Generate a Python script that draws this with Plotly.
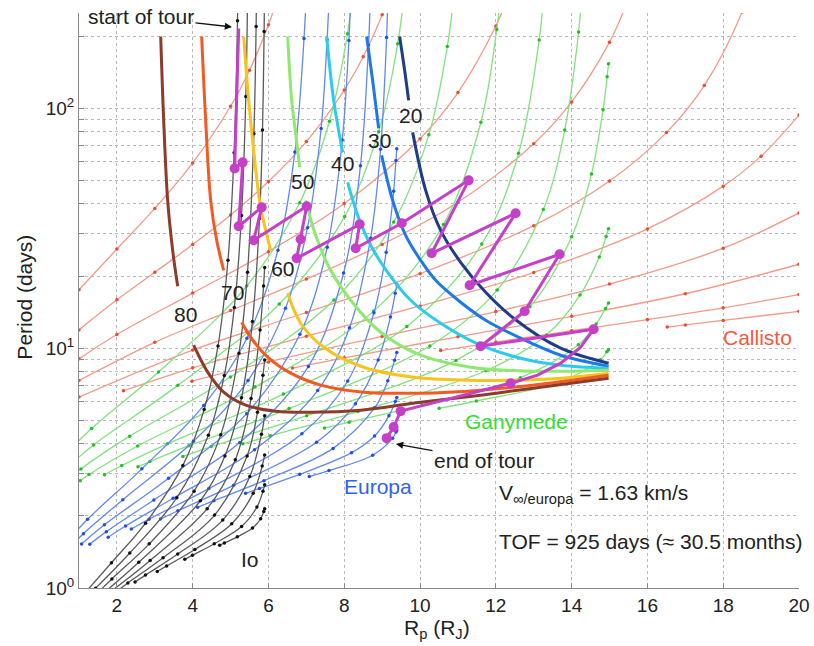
import math
import plotly.graph_objects as go

# ---------------- data ----------------
vinf_kms = [1, 2, 3, 4, 5, 6, 7, 8, 9, 10]

# Io contours (Rp in R_J, period in days), one list per v_inf level
io_rp = [
    [5.900, 5.877, 5.794, 5.578, 5.177, 4.836, 4.711],
    [5.900, 5.855, 5.695, 5.290, 4.570, 3.994, 3.792],
    [5.900, 5.834, 5.597, 5.030, 4.058, 3.313, 3.065],
    [5.900, 5.814, 5.508, 4.794, 3.606, 2.754, 2.479],
    [5.900, 5.854, 5.710, 5.436, 4.579, 3.218, 2.289, 2.000],
    [5.900, 5.870, 5.778, 5.541, 5.125, 4.383, 2.878, 1.898],
    [5.896, 5.885, 5.842, 5.764, 5.576, 5.288, 4.851, 4.203, 2.577, 1.567],
    [5.687, 5.674, 5.615, 5.447, 5.220, 4.741, 4.037, 2.853, 1.867, 1.285],
    [5.465, 5.445, 5.403, 5.288, 5.099, 4.834, 4.414, 3.581, 2.340, 1.438],
    [5.209, 5.183, 5.093, 4.931, 4.668, 4.303, 3.741, 2.757, 1.857, 1.222],
]
io_period = [
    [2.138, 2.083, 1.944, 1.778, 1.634, 1.541, 1.509],
    [2.692, 2.535, 2.175, 1.805, 1.529, 1.369, 1.317],
    [3.590, 3.224, 2.486, 1.852, 1.447, 1.236, 1.172],
    [5.234, 4.372, 2.920, 1.920, 1.385, 1.132, 1.059],
    [8.929, 7.714, 5.407, 3.552, 2.015, 1.337, 1.049, 0.969],
    [21.73, 18.19, 11.90, 6.163, 3.428, 2.142, 1.303, 0.983],
    [305.2, 209.5, 81.36, 34.73, 12.91, 6.208, 3.556, 2.311, 1.280, 0.929],
    [326.9, 219.7, 78.41, 20.76, 9.529, 4.360, 2.534, 1.528, 1.091, 0.885],
    [536.0, 264.3, 112.2, 35.76, 14.78, 7.697, 4.336, 2.379, 1.399, 0.998],
    [545.0, 232.3, 65.29, 23.26, 10.22, 5.547, 3.246, 1.864, 1.275, 0.980],
]

# Europa contours
europa_rp = [
    [9.386, 9.366, 9.276, 8.749, 7.598, 7.077],
    [9.386, 9.347, 9.179, 8.799, 8.193, 6.824, 5.760, 5.396],
    [9.386, 9.329, 9.149, 8.805, 7.704, 5.882, 4.560, 4.129],
    [9.386, 9.345, 9.218, 8.893, 8.293, 7.270, 5.080, 3.611, 3.150],
    [9.386, 9.364, 9.303, 9.107, 8.784, 8.092, 6.882, 4.425, 2.848, 2.381],
    [9.150, 9.117, 8.958, 8.696, 8.138, 7.297, 5.632, 3.484, 2.229, 1.770],
    [8.705, 8.641, 8.427, 7.983, 7.054, 5.243, 2.976, 1.722, 1.284],
    [8.193, 8.122, 7.947, 7.551, 6.830, 5.424, 3.362, 1.671, 1.069],
    [7.615, 7.547, 7.389, 7.030, 6.449, 5.460, 4.020, 2.157, 1.117, 0.747],
    [7.020, 6.938, 6.697, 6.249, 5.432, 4.291, 2.659, 1.226, 0.685],
]
europa_period = [
    [4.538, 4.469, 4.217, 3.579, 3.088, 2.916],
    [6.227, 5.996, 5.225, 4.307, 3.667, 2.978, 2.600, 2.481],
    [9.590, 8.900, 7.313, 5.647, 3.821, 2.804, 2.314, 2.169],
    [18.48, 16.94, 13.48, 8.924, 5.860, 4.056, 2.680, 2.100, 1.938],
    [67.95, 60.62, 45.11, 25.12, 14.05, 7.298, 4.394, 2.598, 1.937, 1.762],
    [291.4, 197.4, 67.59, 28.77, 12.16, 6.658, 3.770, 2.368, 1.813, 1.627],
    [365.3, 183.9, 57.62, 20.59, 8.395, 4.041, 2.329, 1.718, 1.522],
    [386.0, 191.9, 73.77, 26.37, 11.43, 5.333, 2.868, 1.835, 1.527],
    [331.8, 193.3, 82.43, 31.80, 14.66, 7.333, 4.091, 2.335, 1.685, 1.468],
    [375.0, 195.6, 65.76, 25.63, 11.01, 5.775, 3.140, 1.934, 1.559],
]

# Ganymede contours
ganymede_rp = [
    [14.972, 14.932, 14.754, 13.712, 11.485, 10.504],
    [14.972, 14.894, 14.648, 14.176, 12.647, 10.060, 8.127, 7.477],
    [14.972, 14.910, 14.730, 14.221, 13.334, 11.736, 8.364, 6.052, 5.323],
    [14.972, 14.937, 14.829, 14.523, 14.000, 12.899, 10.947, 7.008, 4.488, 3.741],
    [14.260, 14.184, 13.817, 13.253, 12.039, 10.258, 6.544, 3.902, 2.871, 2.556],
    [13.281, 13.143, 12.600, 11.629, 9.650, 6.393, 3.333, 2.129, 1.674],
    [12.184, 12.024, 11.606, 10.617, 8.777, 5.646, 2.548, 1.266, 1.031],
    [10.920, 10.719, 10.233, 9.305, 7.729, 4.996, 2.338, 1.051, 0.749],
    [9.650, 9.409, 8.905, 8.009, 6.285, 3.608, 1.385, 0.815],
    [8.269, 8.084, 7.610, 6.825, 5.426, 3.098, 1.332, 0.679],
]
ganymede_period = [
    [9.857, 9.657, 8.947, 7.247, 6.024, 5.615],
    [15.45, 14.63, 12.63, 10.34, 7.534, 5.802, 4.914, 4.645],
    [31.48, 29.24, 24.00, 16.65, 11.35, 8.056, 5.445, 4.312, 3.992],
    [153.6, 135.7, 98.75, 53.22, 29.14, 14.90, 8.897, 5.229, 3.888, 3.535],
    [290.7, 208.3, 81.26, 37.89, 17.50, 10.21, 5.602, 3.922, 3.368, 3.204],
    [322.2, 192.7, 65.01, 27.22, 12.33, 6.437, 3.991, 3.241, 2.966],
    [364.0, 213.6, 87.56, 32.78, 14.28, 6.884, 3.911, 2.975, 2.803],
    [324.7, 181.3, 77.74, 33.59, 15.89, 7.580, 4.298, 3.137, 2.864],
    [377.8, 186.0, 79.88, 35.39, 15.28, 6.999, 3.952, 3.313],
    [349.2, 204.6, 88.37, 40.41, 18.17, 7.952, 4.629, 3.660],
]

# Callisto contours
callisto_rp = [
    [16.522, 17.0, 18.0, 20.0],
    [10.544, 12.0, 14.0, 16.0, 18.0, 20.0],
    [6.631, 8.0, 11.0, 14.0, 17.0, 20.0],
    [3.979, 6.0, 9.0, 12.0, 15.0, 18.0, 20.0],
    [2.173, 4.0, 7.0, 10.0, 13.0, 16.0, 18.0, 19.0, 20.0],
    [1.0, 4.0, 7.0, 10.0, 13.0, 15.0, 16.5, 17.5, 18.5, 19.0],
    [1.0, 3.0, 5.0, 7.0, 9.0, 11.0, 13.0, 14.0, 15.0, 15.5],
    [1.0, 2.0, 4.0, 6.0, 8.0, 10.0, 11.0, 12.0, 12.3],
    [1.0, 2.0, 3.0, 4.0, 5.0, 6.0, 7.0, 8.0, 8.5, 9.0, 9.3],
    [1.0, 2.0, 3.0, 4.0, 5.0, 5.5, 6.0, 6.2],
]
callisto_period = [
    [12.25, 12.51, 13.06, 14.25],
    [9.778, 10.61, 11.83, 13.17, 14.74, 16.74],
    [8.264, 9.123, 11.16, 13.59, 16.87, 22.40],
    [7.287, 8.768, 11.20, 14.22, 18.52, 26.12, 36.65],
    [6.646, 8.285, 11.23, 15.01, 20.69, 31.45, 47.41, 63.24, 93.81],
    [6.254, 9.822, 14.09, 20.46, 32.45, 49.82, 79.28, 124.5, 252.8, 450.0],
    [7.336, 10.58, 14.35, 19.42, 27.09, 40.64, 71.24, 106.4, 189.0, 286.0],
    [9.034, 11.41, 16.98, 25.27, 40.10, 74.78, 116.4, 220.6, 287.0],
    [11.92, 15.91, 20.73, 27.05, 35.97, 49.58, 72.75, 119.3, 164.2, 245.8, 334.0],
    [17.53, 25.93, 38.28, 59.27, 102.1, 144.4, 223.3, 276.5],
]

# thick labelled contours (levels 20..80); each is broken by its inline label
contour_levels = [20, 30, 40, 50, 60, 70, 80]
contour_upper_rp = [
    [9.462, 9.594, 9.699],
    [8.591, 8.749, 8.908],
    [7.536, 7.721, 7.958],
    [6.507, 6.612, 6.718, 6.823],
    [5.346, 5.478, 5.610, 5.794, 6.058],
    [4.237, 4.343, 4.475, 4.633, 4.818],
    [3.156, 3.235, 3.340, 3.472, 3.604],
]
contour_upper_period = [
    [199.5, 143.9, 108.0],
    [199.5, 130.8, 82.54],
    [199.5, 108.0, 65.56],
    [199.5, 108.0, 78.66, 56.78],
    [199.5, 108.0, 66.83, 38.68, 25.6],
    [199.5, 89.1, 41.37, 28.18, 21.13],
    [199.5, 89.1, 41.37, 25.6, 18.13],
]
contour_lower_rp = [
    [9.805, 10.148, 10.544, 11.071, 11.731, 12.470, 13.710, 14.976],
    [8.987, 9.277, 9.620, 10.016, 10.412, 11.071, 11.731, 12.655, 13.710, 14.976],
    [8.090, 8.354, 8.697, 9.145, 9.752, 10.544, 11.599, 12.655, 13.710, 14.976],
    [6.982, 7.245, 7.641, 8.169, 8.960, 10.016, 11.335, 12.918, 14.976],
    [6.507, 6.850, 7.457, 8.512, 9.832, 11.256, 12.470, 13.710, 14.976],
    [5.293, 5.530, 5.979, 6.586, 7.377, 8.512, 10.016, 11.599, 13.182, 14.976],
    [4.026, 4.396, 4.818, 5.398, 6.190, 7.113, 8.433, 10.016, 11.599, 13.182, 14.976],
]
contour_lower_period = [
    [79.43, 45.53, 31.01, 22.82, 17.11, 13.34, 10.0, 8.660],
    [63.71, 41.37, 29.57, 23.26, 19.20, 15.55, 13.08, 11.01, 9.351, 8.414],
    [49.17, 35.83, 26.86, 20.73, 15.85, 12.71, 10.29, 9.085, 8.494, 8.254],
    [41.37, 29.57, 21.13, 15.85, 11.66, 9.351, 8.332, 8.020, 8.097],
    [16.95, 12.71, 10.10, 8.332, 7.570, 7.356, 7.356, 7.499, 7.867],
    [12.83, 11.11, 9.173, 7.867, 7.014, 6.556, 6.494, 6.683, 7.079, 7.718],
    [10.29, 7.943, 6.556, 5.788, 5.464, 5.412, 5.516, 5.957, 6.371, 6.879, 7.499],
]
contour_label_rp = [9.752, 8.934, 7.958, 6.903, 6.38, 5.055, 3.815]
contour_label_period = [91.73, 72.16, 57.88, 48.70, 21.13, 16.63, 13.59]

# tour path (magenta) and flyby points
tour_path_rp = [5.214, 5.108, 5.319, 5.214, 5.821, 5.610, 7.008, 6.850, 6.744, 8.406,
                8.301, 9.515, 11.282, 10.306, 12.522, 11.309, 13.683, 12.760, 11.599,
                14.580, 14.237, 13.710, 13.103, 12.391, 9.488, 9.303, 9.119]
tour_path_period = [215.4, 56.23, 59.57, 32.24, 38.68, 28.18, 39.05, 28.46, 23.71, 32.86,
                    26.10, 33.18, 50.12, 24.88, 36.52, 18.30, 24.64, 14.26, 10.19,
                    12.00, 10.10, 8.660, 7.718, 7.148, 5.464, 4.688, 4.217]
flyby_rp = [5.108, 5.319, 5.214, 5.821, 5.610, 7.008, 6.850, 6.744, 8.406, 8.301,
            9.515, 11.282, 10.306, 12.522, 11.309, 13.683, 12.760, 11.599, 14.580,
            12.391, 9.488, 9.303, 9.119]
flyby_period = [56.23, 59.57, 32.24, 38.68, 28.18, 39.05, 28.46, 23.71, 32.86, 26.10,
                33.18, 50.12, 24.88, 36.52, 18.30, 24.64, 14.26, 10.19, 12.00,
                7.148, 5.464, 4.688, 4.217]

x_ticks = [2, 4, 6, 8, 10, 12, 14, 16, 18, 20]
y_major = [1, 10, 100]
y_major_labels = ["10<sup>0</sup>", "10<sup>1</sup>", "10<sup>2</sup>"]
y_minor = [2, 3, 4, 5, 6, 7, 8, 9, 20, 30, 40, 50, 60, 70, 80, 90, 200]

# ---------------- figure ----------------
FONT = "Liberation Sans, Arial, Helvetica, sans-serif"
GRID = "#B8B8B8"
AXC = "#8A8A8A"
fig = go.Figure()

families = [
    (callisto_rp, callisto_period, "#F39A88", "#EE4B30"),
    (ganymede_rp, ganymede_period, "#82E27E", "#22C022"),
    (europa_rp, europa_period, "#6289F2", "#1F4FE6"),
    (io_rp, io_period, "#5A5A5A", "#111111"),
]
for rps, pers, lc, mc in families:
    for rp, per in zip(rps, pers):
        fig.add_trace(go.Scatter(
            x=rp, y=per, mode="lines+markers",
            line=dict(color=lc, width=1.3, shape="spline", smoothing=1.0),
            marker=dict(size=3.5, color=mc),
            hoverinfo="skip", showlegend=False))

contour_colors = ["#1F3C8A", "#1E78E8", "#2CCBEE", "#8FE870", "#F7C31C", "#F25A22", "#8E3B2C"]
for i, lvl in enumerate(contour_levels):
    for xs, ys in ((contour_upper_rp[i], contour_upper_period[i]),
                   (contour_lower_rp[i], contour_lower_period[i])):
        fig.add_trace(go.Scatter(
            x=xs, y=ys, mode="lines",
            line=dict(color=contour_colors[i], width=3, shape="spline", smoothing=1.0),
            hoverinfo="skip", showlegend=False))

fig.add_trace(go.Scatter(
    x=contour_label_rp, y=contour_label_period, mode="text",
    text=[str(v) for v in contour_levels],
    textfont=dict(family=FONT, size=21, color="#222222"),
    hoverinfo="skip", showlegend=False))

fig.add_trace(go.Scatter(
    x=tour_path_rp, y=tour_path_period, mode="lines",
    line=dict(color="#C63FC8", width=3),
    hoverinfo="skip", showlegend=False))
fig.add_trace(go.Scatter(
    x=flyby_rp, y=flyby_period, mode="markers",
    marker=dict(size=10, color="#C63FC8"),
    hoverinfo="skip", showlegend=False))

fig.update_layout(
    width=814, height=646,
    margin=dict(l=79, r=15, t=13, b=58, autoexpand=False),
    paper_bgcolor="white", plot_bgcolor="white",
    font=dict(family=FONT, size=20, color="#222222"),
    showlegend=False,
)
fig.update_xaxes(
    range=[1, 20], tickmode="array", tickvals=x_ticks, ticktext=[str(v) for v in x_ticks],
    showgrid=True, gridcolor=GRID, griddash="dot", gridwidth=1,
    showline=True, linecolor=AXC, linewidth=1,
    ticks="inside", ticklen=5, tickcolor=AXC, automargin=False,
    zeroline=False, tickfont=dict(size=19, color="#222222"),
)
fig.update_yaxes(
    type="log", range=[0, math.log10(250)],
    tickmode="array", tickvals=y_major, ticktext=y_major_labels,
    showgrid=True, gridcolor=GRID, griddash="dot", gridwidth=1,
    showline=True, linecolor=AXC, linewidth=1,
    ticks="inside", ticklen=5, tickcolor=AXC, automargin=False,
    zeroline=False, tickfont=dict(size=19, color="#222222"),
    minor=dict(tickmode="array", tickvals=y_minor, ticks="inside", ticklen=5,
               tickcolor=AXC, showgrid=True, gridcolor=GRID, griddash="dot", gridwidth=1),
)

def pann(text, x, y, color="#222222", size=21, xanchor="center", **kw):
    fig.add_annotation(text=text, x=x, y=y, xref="paper", yref="paper",
                       xanchor=xanchor, yanchor="middle",
                       showarrow=False, font=dict(family=FONT, size=size, color=color), **kw)

pann("Period (days)", -0.075, 0.505, size=21, textangle=-90)
pann("R<sub>p</sub> (R<sub>J</sub>)", 0.497, -0.072, size=21)
pann("Europa", 0.4153, 0.1757, color="#2F62F5")
pann("Io", 0.2375, 0.0504)
pann("Ganymede", 0.607, 0.2887, color="#2FE02F")
pann("Callisto", 0.9417, 0.4348, color="#F25A3A")
pann("V<sub>∞/europa</sub> = 1.63 km/s", 0.581, 0.1635, xanchor="left")
pann("TOF = 925 days (≈ 30.5 months)", 0.580, 0.0817, xanchor="left")

fig.add_annotation(text="start of tour", x=0.2125, y=0.9757, xref="paper", yref="paper",
                   showarrow=True, ax=-91, ay=-10, arrowhead=2, arrowsize=1.1,
                   arrowwidth=1.3, arrowcolor="#111111",
                   font=dict(family=FONT, size=21, color="#222222"))
fig.add_annotation(text="end of tour", x=0.4403, y=0.2504, xref="paper", yref="paper",
                   showarrow=True, ax=88, ay=16, arrowhead=2, arrowsize=1.1,
                   arrowwidth=1.3, arrowcolor="#111111",
                   font=dict(family=FONT, size=21, color="#222222"))

fig.write_html("out.html")
